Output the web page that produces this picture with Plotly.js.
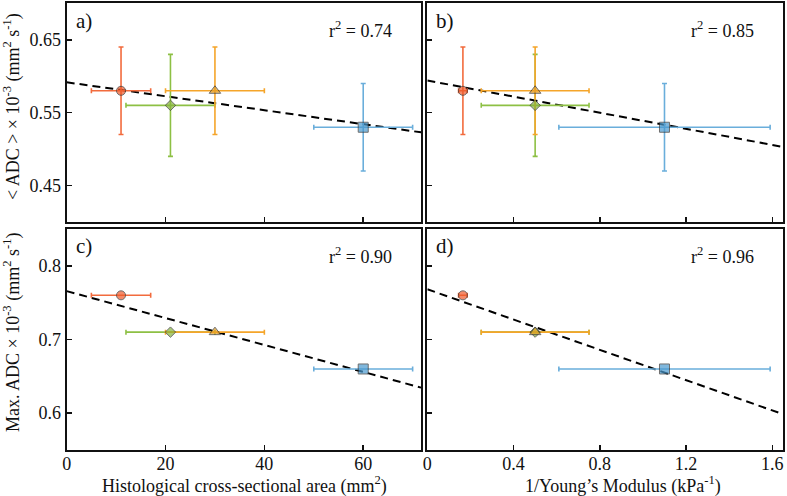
<!DOCTYPE html>
<html>
<head>
<meta charset="utf-8">
<script src="https://cdn.plot.ly/plotly-3.0.1.min.js"></script>
<style>html,body{margin:0;padding:0;background:#fff;}#chart{width:787px;height:496px;}</style>
</head>
<body>
<div id="chart"></div>
<script>
// ---- data ----
const groupNames   = ['Group A', 'Group B', 'Group C', 'Group D'];
const symbols      = ['circle', 'diamond', 'triangle-up', 'square'];
const barColors    = ['#f26b3d', '#8dc044', '#f5a52a', '#6aaedb'];
const fillColors   = ['#f05a2a', '#86b43c', '#e9a024', '#4a9acf'];

const area         = [11, 21, 30, 60];          // histological cross-sectional area (mm^2)
const areaErr      = [6, 9, 10, 10];
const invYoung     = [0.165, 0.5, 0.5, 1.1];    // 1/Young's modulus (kPa^-1)
const invYoungErr  = [0.02, 0.25, 0.25, 0.49];
const meanADC      = [0.58, 0.56, 0.58, 0.53];
const meanADCErr   = [0.06, 0.07, 0.06, 0.06];
const maxADC       = [0.76, 0.71, 0.71, 0.66];

// fitted dashed lines (end points)
const fitA_x = [0, 71.7],  fitA_y = [0.5917, 0.5230];
const fitB_x = [0, 1.65],  fitB_y = [0.5941, 0.5030];
const fitC_x = [0, 71.7],  fitC_y = [0.7657, 0.6347];
const fitD_x = [0, 1.65],  fitD_y = [0.7682, 0.5986];

const panelLabels = ['a)', 'b)', 'c)', 'd)'];
const r2Labels    = ['0.74', '0.85', '0.90', '0.96'];

const FONT = 'Liberation Serif, Times New Roman, Times, serif';

const traces = [];
function panel(xa, ya, xs, xe, ys, ye, fx, fy) {
  traces.push({x: fx, y: fy, xaxis: xa, yaxis: ya, mode: 'lines',
    line: {color: '#000', width: 2, dash: '8px,5px'}, hoverinfo: 'skip'});
  for (let i = 0; i < xs.length; i++) {
    const t = {x: [xs[i]], y: [ys[i]], xaxis: xa, yaxis: ya, mode: 'markers',
      name: groupNames[i], marker: {size: 6, opacity: 0},
      error_x: {type: 'data', array: [xe[i]], visible: true, color: barColors[i], thickness: 1.6, width: 2.5}};
    if (ye) t.error_y = {type: 'data', array: [ye[i]], visible: true, color: barColors[i], thickness: 1.6, width: 2.5};
    traces.push(t);
  }
  traces.push({x: xs, y: ys, xaxis: xa, yaxis: ya, mode: 'markers',
    marker: {symbol: symbols, color: fillColors, size: [9, 8, 10, 10],
      line: {color: '#333', width: 1}}});
}
panel('x',  'y',  area,     areaErr,     meanADC, meanADCErr, fitA_x, fitA_y);
panel('x2', 'y2', invYoung, invYoungErr, meanADC, meanADCErr, fitB_x, fitB_y);
panel('x3', 'y3', area,     areaErr,     maxADC,  null,       fitC_x, fitC_y);
panel('x4', 'y4', invYoung, invYoungErr, maxADC,  null,       fitD_x, fitD_y);

const dl = [0.0847, 0.535], dr = [0.543, 0.995];
const dt = [0.5524, 0.9933], db = [0.0927, 0.5383];
const baseAx = {showline: true, mirror: true, linewidth: 2, linecolor: '#111',
  ticks: 'inside', ticklen: 5, tickwidth: 1.5, tickcolor: '#111',
  showgrid: false, zeroline: false, tickfont: {family: FONT, size: 18, color: '#111'}};

const areaTicks = [0, 20, 40, 60], areaText = ['0', '20', '40', '60'];
const invTicks = [0, 0.4, 0.8, 1.2, 1.6], invText = ['0', '0.4', '0.8', '1.2', '1.6'];
const topTicks = [0.45, 0.55, 0.65], topText = ['0.45', '0.55', '0.65'];
const botTicks = [0.6, 0.7, 0.8], botText = ['0.6', '0.7', '0.8'];

const layout = {
  width: 787, height: 496, margin: {l: 0, r: 0, t: 0, b: 0},
  paper_bgcolor: '#fff', plot_bgcolor: '#fff', showlegend: false,
  font: {family: FONT, color: '#111'},
  xaxis:  Object.assign({}, baseAx, {domain: dl, anchor: 'y',  range: [0, 71.7], tickvals: areaTicks, ticktext: areaText, showticklabels: false}),
  xaxis2: Object.assign({}, baseAx, {domain: dr, anchor: 'y2', range: [0, 1.65], tickvals: invTicks, ticktext: invText, showticklabels: false}),
  xaxis3: Object.assign({}, baseAx, {domain: dl, anchor: 'y3', range: [0, 71.7], tickvals: areaTicks, ticktext: areaText, ticklabelstandoff: -4}),
  xaxis4: Object.assign({}, baseAx, {domain: dr, anchor: 'y4', range: [0, 1.65], tickvals: invTicks, ticktext: invText, ticklabelstandoff: -4}),
  yaxis:  Object.assign({}, baseAx, {domain: dt, anchor: 'x',  range: [0.40, 0.70], tickvals: topTicks, ticktext: topText}),
  yaxis2: Object.assign({}, baseAx, {domain: dt, anchor: 'x2', range: [0.40, 0.70], tickvals: topTicks, ticktext: topText, showticklabels: false}),
  yaxis3: Object.assign({}, baseAx, {domain: db, anchor: 'x3', range: [0.55, 0.85], tickvals: botTicks, ticktext: botText}),
  yaxis4: Object.assign({}, baseAx, {domain: db, anchor: 'x4', range: [0.55, 0.85], tickvals: botTicks, ticktext: botText, showticklabels: false}),
  annotations: []
};

const ax = [['x', 'y'], ['x2', 'y2'], ['x3', 'y3'], ['x4', 'y4']];
ax.forEach((p, i) => {
  layout.annotations.push({xref: p[0] + ' domain', yref: p[1] + ' domain', x: 0.02, y: 0.985,
    xanchor: 'left', yanchor: 'top', showarrow: false, text: panelLabels[i],
    font: {family: FONT, size: 21, color: '#111'}});
  layout.annotations.push({xref: p[0] + ' domain', yref: p[1] + ' domain', x: 0.925, y: 0.88,
    xanchor: 'right', yanchor: 'middle', showarrow: false, text: 'r<sup>2</sup> = ' + r2Labels[i],
    font: {family: FONT, size: 18, color: '#111'}});
});
layout.annotations.push({xref: 'paper', yref: 'paper', x: 12 / 787, y: 1 - 107 / 496, textangle: -90,
  xanchor: 'center', yanchor: 'middle', showarrow: false,
  text: '< ADC > × 10<sup>-3</sup> (mm<sup>2</sup> s<sup>-1</sup>)', font: {family: FONT, size: 18, color: '#111'}});
layout.annotations.push({xref: 'paper', yref: 'paper', x: 12 / 787, y: 1 - 333 / 496, textangle: -90,
  xanchor: 'center', yanchor: 'middle', showarrow: false,
  text: 'Max. ADC × 10<sup>-3</sup> (mm<sup>2</sup> s<sup>-1</sup>)', font: {family: FONT, size: 18, color: '#111'}});
layout.annotations.push({xref: 'paper', yref: 'paper', x: 244 / 787, y: 1 - 485 / 496,
  xanchor: 'center', yanchor: 'middle', showarrow: false,
  text: 'Histological cross-sectional area (mm<sup>2</sup>)', font: {family: FONT, size: 18, color: '#111'}});
layout.annotations.push({xref: 'paper', yref: 'paper', x: 623 / 787, y: 1 - 485 / 496,
  xanchor: 'center', yanchor: 'middle', showarrow: false,
  text: '1/Young’s Modulus (kPa<sup>-1</sup>)', font: {family: FONT, size: 18, color: '#111'}});

Plotly.newPlot('chart', traces, layout, {staticPlot: true, displayModeBar: false});
</script>
</body>
</html>
